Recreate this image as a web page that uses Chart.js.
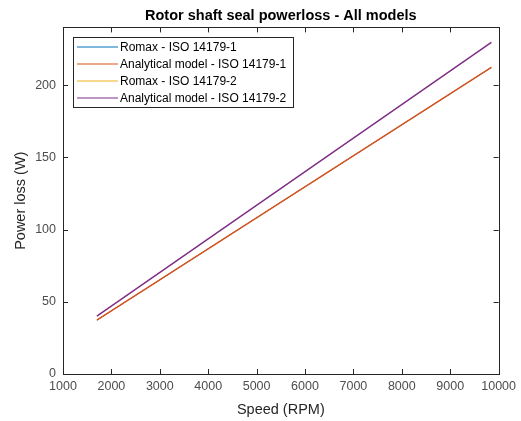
<!DOCTYPE html>
<html>
<head>
<meta charset="utf-8">
<script src="https://cdn.jsdelivr.net/npm/chart.js@4.4.1/dist/chart.umd.min.js"></script>
<style>
  html, body { margin: 0; padding: 0; background: #fff; }
  #wrap { width: 521px; height: 421px; }
</style>
</head>
<body>
<div id="wrap"><canvas id="c" width="521" height="421"></canvas></div>
<script>
// Shaft speed (RPM) at the ends of the sweep
const speeds = [1700, 9850];

// Seal power loss (W)
const romaxIso1 = [37.3, 212.3];
const analyticalIso1 = [37.3, 212.3];
const romaxIso2 = [40.1, 229.6];
const analyticalIso2 = [40.1, 229.6];

const seriesLabels = [
  'Romax - ISO 14179-1',
  'Analytical model - ISO 14179-1',
  'Romax - ISO 14179-2',
  'Analytical model - ISO 14179-2'
];
const seriesColors = ['#0072BD', '#D95319', '#EDB120', '#7E2F8E'];
// Romax curves sit underneath the analytical ones
const seriesWidths = [1.0, 1.4, 1.0, 1.4];

const xTicks = [1000, 2000, 3000, 4000, 5000, 6000, 7000, 8000, 9000, 10000];
const yTicks = [0, 50, 100, 150, 200];

const axisColor = '#262626';
const tickTextColor = '#4d4d4d';
const fontFamily = 'Liberation Sans, Arial, Helvetica, sans-serif';

function toPoints(values) {
  return speeds.map((s, i) => ({ x: s, y: values[i] }));
}

const seriesValues = [romaxIso1, analyticalIso1, romaxIso2, analyticalIso2];

// Box around the axes, inward tick marks and a framed legend
const matlabAxes = {
  id: 'matlabAxes',
  afterDraw(chart) {
    const { ctx, chartArea: a, scales } = chart;
    ctx.save();
    ctx.strokeStyle = axisColor;
    ctx.lineWidth = 1;
    ctx.strokeRect(Math.round(a.left) + 0.5, Math.round(a.top) + 0.5,
      Math.round(a.right - a.left), Math.round(a.bottom - a.top));
    const tl = 5;
    ctx.beginPath();
    xTicks.forEach(v => {
      const px = Math.round(scales.x.getPixelForValue(v)) + 0.5;
      ctx.moveTo(px, a.bottom); ctx.lineTo(px, a.bottom - tl);
      ctx.moveTo(px, a.top); ctx.lineTo(px, a.top + tl);
    });
    yTicks.forEach(v => {
      const py = Math.round(scales.y.getPixelForValue(v)) + 0.5;
      ctx.moveTo(a.left, py); ctx.lineTo(a.left + tl, py);
      ctx.moveTo(a.right, py); ctx.lineTo(a.right - tl, py);
    });
    ctx.stroke();

    // legend
    const lx = Math.round(a.left) + 10, ly = Math.round(a.top) + 10;
    const rowH = 17;
    ctx.font = '12px ' + fontFamily;
    let maxW = 0;
    chart.data.datasets.forEach(d => { maxW = Math.max(maxW, ctx.measureText(d.label).width); });
    const boxW = Math.round(47 + maxW + 7);
    const boxH = rowH * (chart.data.datasets.length - 1) + 19;
    ctx.fillStyle = '#fff';
    ctx.fillRect(lx, ly, boxW, boxH);
    ctx.strokeStyle = axisColor;
    ctx.lineWidth = 1;
    ctx.strokeRect(lx + 0.5, ly + 0.5, boxW, boxH);
    chart.data.datasets.forEach((d, i) => {
      const y = ly + 10 + i * rowH;
      ctx.strokeStyle = d.borderColor;
      ctx.lineWidth = 1.2;
      ctx.beginPath();
      ctx.moveTo(lx + 4, y); ctx.lineTo(lx + 45, y);
      ctx.stroke();
      ctx.fillStyle = '#000';
      ctx.textBaseline = 'middle';
      ctx.textAlign = 'left';
      ctx.fillText(d.label, lx + 47, y + 0.5);
    });
    ctx.restore();
  }
};

new Chart(document.getElementById('c'), {
  type: 'line',
  data: {
    datasets: seriesValues.map((vals, i) => ({
      label: seriesLabels[i],
      data: toPoints(vals),
      borderColor: seriesColors[i],
      backgroundColor: seriesColors[i],
      borderWidth: seriesWidths[i],
      pointRadius: 0,
      tension: 0,
      fill: false,
      // later series are painted over earlier ones
      order: seriesValues.length - 1 - i
    }))
  },
  options: {
    responsive: false,
    animation: false,
    events: [],
    layout: { padding: { left: 0, right: 20, top: 0, bottom: 0 } },
    plugins: {
      legend: { display: false },
      tooltip: { enabled: false },
      title: {
        display: true,
        fullSize: false,
        text: 'Rotor shaft seal powerloss - All models',
        color: '#000',
        font: { family: fontFamily, size: 14.5, weight: 'bold' },
        padding: { top: 7, bottom: 3 }
      }
    },
    scales: {
      x: {
        type: 'linear',
        min: 1000,
        max: 10000,
        afterBuildTicks(scale) { scale.ticks = xTicks.map(v => ({ value: v })); },
        afterFit(scale) { scale.height = 47; },
        grid: { display: false, drawTicks: false },
        border: { display: false },
        ticks: {
          color: tickTextColor,
          font: { family: fontFamily, size: 12.5 },
          padding: 5,
          maxRotation: 0,
          autoSkip: false,
          callback: v => String(v)
        },
        title: {
          display: true,
          text: 'Speed (RPM)',
          color: '#262626',
          font: { family: fontFamily, size: 14.5 },
          padding: { top: 0, bottom: 2 }
        }
      },
      y: {
        type: 'linear',
        min: 0,
        max: 240,
        afterBuildTicks(scale) { scale.ticks = yTicks.map(v => ({ value: v })); },
        afterFit(scale) { scale.width = 63; },
        grid: { display: false, drawTicks: false },
        border: { display: false },
        ticks: {
          color: tickTextColor,
          font: { family: fontFamily, size: 12.5 },
          padding: 7,
          callback: v => String(v)
        },
        title: {
          display: true,
          text: 'Power loss (W)',
          color: '#262626',
          font: { family: fontFamily, size: 14.5 },
          padding: { top: 12, bottom: 0 }
        }
      }
    }
  },
  plugins: [matlabAxes]
});
</script>
</body>
</html>
